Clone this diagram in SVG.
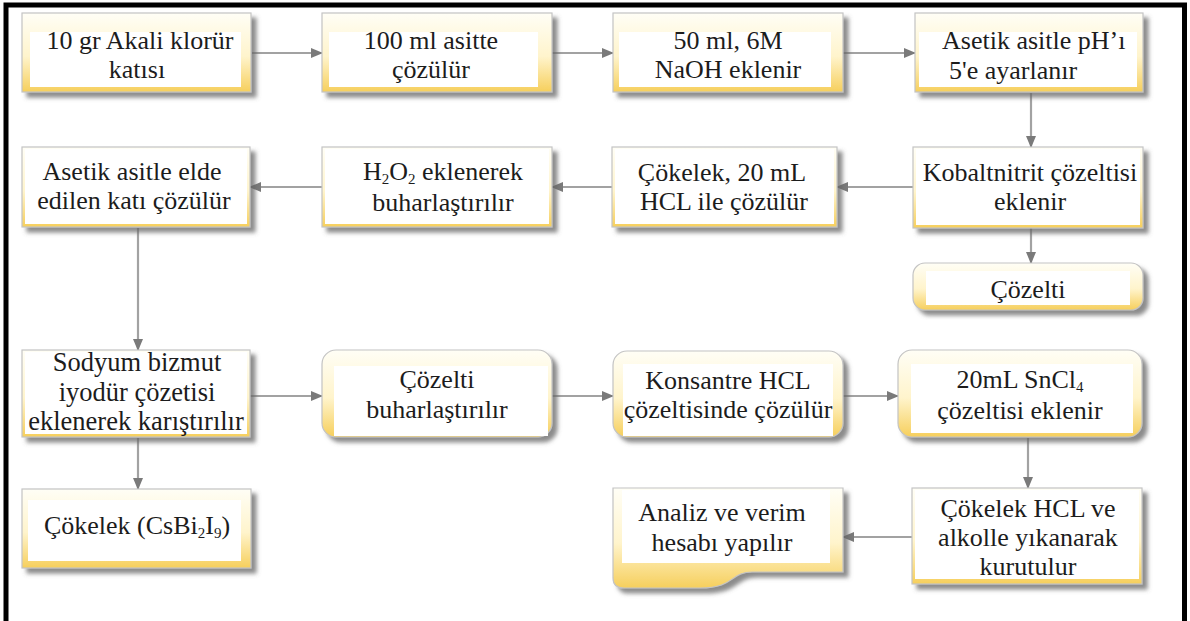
<svg xmlns="http://www.w3.org/2000/svg" width="1190" height="621" viewBox="0 0 1190 621">
<defs>
<linearGradient id="yg" x1="0" y1="0" x2="0" y2="1">
<stop offset="0" stop-color="#fffef6"/>
<stop offset="0.55" stop-color="#fff4cc"/>
<stop offset="1" stop-color="#f6cf5c"/>
</linearGradient>
<filter id="sh" x="-10%" y="-10%" width="125%" height="130%">
<feGaussianBlur in="SourceAlpha" stdDeviation="2.2"/>
<feOffset dx="5" dy="5" result="b"/>
<feFlood flood-color="#666666" flood-opacity="0.75"/>
<feComposite in2="b" operator="in"/>
<feMerge><feMergeNode/><feMergeNode in="SourceGraphic"/></feMerge>
</filter>
<marker id="ah" viewBox="0 0 12 12" refX="11" refY="6" markerWidth="12" markerHeight="12" markerUnits="userSpaceOnUse" orient="auto">
<path d="M0,1 L12,6 L0,11 Z" fill="#7a7a7a"/>
</marker>
</defs>
<style>
.b{fill:url(#yg);stroke:#c4c4c4;stroke-width:1.2;filter:url(#sh)}
.w{fill:#ffffff}
text{font-family:'Liberation Serif','Times New Roman',serif;font-size:26px;fill:#1c1c1c;text-anchor:middle}
.ts{text-anchor:start}
.lg{font-size:26.5px}
.c{stroke:#a2a2a2;stroke-width:2.2;fill:none;marker-end:url(#ah)}
</style>
<rect width="1190" height="621" fill="#ffffff"/>
<path d="M6,621 V5 H1184.5 V621" fill="none" stroke="#000" stroke-width="5"/>

<g id="connectors">
<line class="c" x1="252" y1="53" x2="322" y2="53"/>
<line class="c" x1="552" y1="53" x2="613" y2="53"/>
<line class="c" x1="843" y1="53" x2="915" y2="53"/>
<line class="c" x1="1031" y1="93" x2="1031" y2="147"/>
<line class="c" x1="913" y1="187" x2="837" y2="187"/>
<line class="c" x1="612" y1="187" x2="552" y2="187"/>
<line class="c" x1="322" y1="187" x2="250" y2="187"/>
<line class="c" x1="1031" y1="228" x2="1031" y2="263"/>
<line class="c" x1="138" y1="228" x2="138" y2="350"/>
<line class="c" x1="250" y1="396" x2="322" y2="396"/>
<line class="c" x1="552" y1="396" x2="613" y2="396"/>
<line class="c" x1="843" y1="396" x2="898" y2="396"/>
<line class="c" x1="1028" y1="438" x2="1028" y2="488"/>
<line class="c" x1="913" y1="537" x2="843" y2="537"/>
<line class="c" x1="138" y1="438" x2="138" y2="489"/>
</g>

<g id="n1">
<rect class="b" x="22" y="13" width="229" height="79"/>
<rect class="w" x="30" y="32" width="211" height="55"/>
<text font-family="Liberation Serif" x="140" y="49">10 gr Akali klorür</text>
<text font-family="Liberation Serif" x="137" y="78">katısı</text>
</g>
<g id="n2">
<rect class="b" x="322" y="13" width="230" height="79"/>
<rect class="w" x="329" y="32" width="209" height="55"/>
<text font-family="Liberation Serif" x="431" y="49">100 ml asitte</text>
<text font-family="Liberation Serif" x="431" y="78">çözülür</text>
</g>
<g id="n3">
<rect class="b" x="613" y="13" width="230" height="79"/>
<rect class="w" x="619" y="32" width="212" height="55"/>
<text font-family="Liberation Serif" x="728" y="49">50 ml, 6M</text>
<text font-family="Liberation Serif" x="728" y="78">NaOH eklenir</text>
</g>
<g id="n4">
<rect class="b" x="915" y="13" width="228" height="79"/>
<rect class="w" x="919" y="32" width="218" height="55"/>
<text font-family="Liberation Serif" class="ts" x="942" y="49">Asetik asitle pH’ı</text>
<text font-family="Liberation Serif" class="ts" x="949" y="79">5'e ayarlanır</text>
</g>

<g id="n5">
<rect class="b" x="22" y="147" width="228" height="80"/>
<rect class="w" x="25" y="149" width="222" height="75"/>
<text font-family="Liberation Serif" x="132" y="180">Asetik asitle elde</text>
<text font-family="Liberation Serif" x="134" y="209">edilen katı çözülür</text>
</g>
<g id="n6">
<rect class="b" x="322" y="147" width="230" height="80"/>
<rect class="w" x="325" y="149" width="224" height="75"/>
<text font-family="Liberation Serif" x="443" y="180">H<tspan font-size="15" dy="4">2</tspan><tspan dy="-4">O</tspan><tspan font-size="15" dy="4">2</tspan><tspan dy="-4"> eklenerek</tspan></text>
<text font-family="Liberation Serif" x="443" y="211">buharlaştırılır</text>
</g>
<g id="n7">
<rect class="b" x="612" y="147" width="225" height="80"/>
<rect class="w" x="615" y="149" width="219" height="75"/>
<text font-family="Liberation Serif" x="722" y="181">Çökelek, 20 mL</text>
<text font-family="Liberation Serif" x="724" y="210">HCL ile çözülür</text>
</g>
<g id="n8">
<rect class="b" x="913" y="147" width="230" height="81"/>
<rect class="w" x="916" y="149" width="224" height="76"/>
<text font-family="Liberation Serif" x="1030" y="181">Kobaltnitrit çözeltisi</text>
<text font-family="Liberation Serif" x="1030" y="210">eklenir</text>
</g>
<g id="n9">
<rect class="b" x="913" y="263" width="230" height="47" rx="12"/>
<rect class="w" x="926" y="271" width="204" height="34"/>
<text font-family="Liberation Serif" x="1028" y="298">Çözelti</text>
</g>

<g id="n10">
<rect class="b" x="22" y="350" width="228" height="87"/>
<rect class="w" x="25" y="352" width="222" height="82"/>
<text font-family="Liberation Serif" class="lg" x="137" y="371">Sodyum bizmut</text>
<text font-family="Liberation Serif" class="lg" x="137" y="400.5">iyodür çözetisi</text>
<text font-family="Liberation Serif" class="lg" x="136" y="430">eklenerek karıştırılır</text>
</g>
<g id="n11">
<rect class="b" x="322" y="350" width="230" height="87" rx="14"/>
<rect class="w" x="334" y="366" width="214" height="70"/>
<text font-family="Liberation Serif" x="437" y="388">Çözelti</text>
<text font-family="Liberation Serif" x="437" y="418">buharlaştırılır</text>
</g>
<g id="n12">
<rect class="b" x="613" y="351" width="230" height="86" rx="14"/>
<rect class="w" x="623" y="364" width="210" height="72"/>
<text font-family="Liberation Serif" x="728" y="389">Konsantre HCL</text>
<text font-family="Liberation Serif" x="728" y="418">çözeltisinde çözülür</text>
</g>
<g id="n13">
<rect class="b" x="898" y="350" width="244" height="87" rx="14"/>
<rect class="w" x="911" y="364" width="222" height="69"/>
<text font-family="Liberation Serif" x="1020" y="388">20mL SnCl<tspan font-size="15" dy="4">4</tspan></text>
<text font-family="Liberation Serif" x="1020" y="419">çözeltisi eklenir</text>
</g>

<g id="n14">
<rect class="b" x="22" y="489" width="229" height="79"/>
<rect class="w" x="28" y="500" width="213" height="61"/>
<text font-family="Liberation Serif" x="137" y="534">Çökelek (CsBi<tspan font-size="15" dy="4">2</tspan><tspan dy="-4">I</tspan><tspan font-size="15" dy="4">9</tspan><tspan dy="-4">)</tspan></text>
</g>
<g id="n15">
<path class="b" d="M613,488 H843 V572 L752,572 C730,572 735,588 700,588 L624,588 Q613,588 613,578 Z"/>
<rect class="w" x="622" y="490" width="208" height="73"/>
<text font-family="Liberation Serif" x="722" y="521">Analiz ve verim</text>
<text font-family="Liberation Serif" x="722" y="551">hesabı yapılır</text>
</g>
<g id="n16">
<rect class="b" x="912" y="488" width="230" height="96"/>
<rect class="w" x="915" y="490" width="224" height="89"/>
<text font-family="Liberation Serif" x="1028" y="517">Çökelek HCL ve</text>
<text font-family="Liberation Serif" x="1028" y="546">alkolle yıkanarak</text>
<text font-family="Liberation Serif" x="1028" y="575">kurutulur</text>
</g>
</svg>
